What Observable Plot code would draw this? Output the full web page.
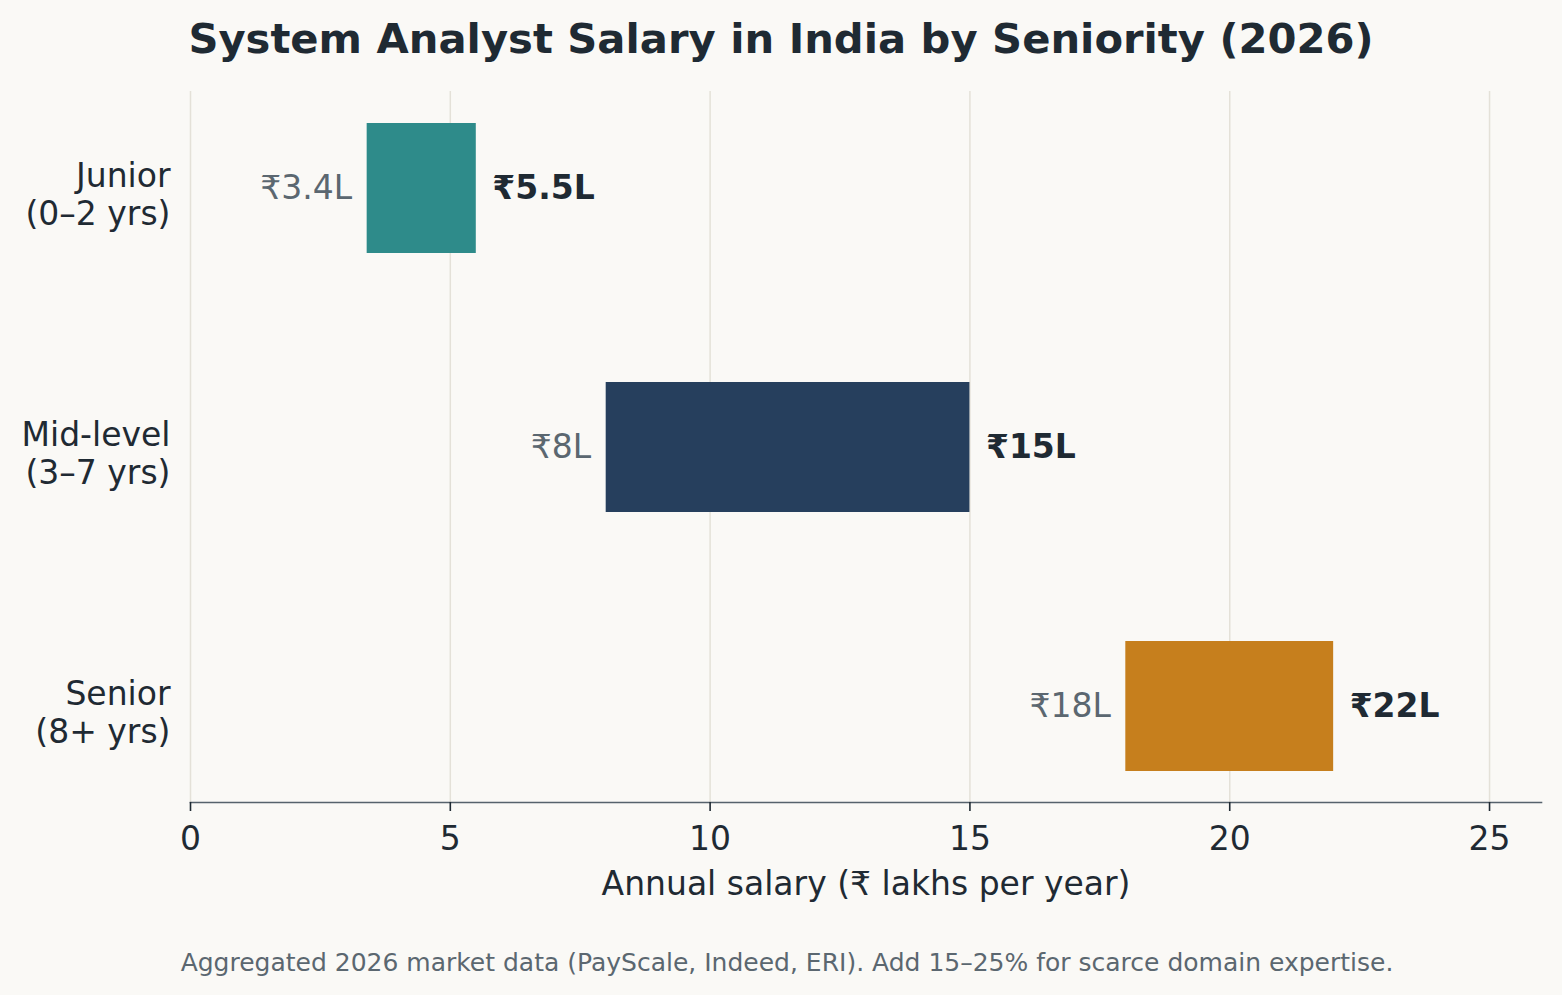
<!DOCTYPE html>
<html>
<head>
<meta charset="utf-8">
<script src="https://cdn.jsdelivr.net/npm/d3@7"></script>
<script src="https://cdn.jsdelivr.net/npm/@observablehq/plot@0.6"></script>
<style>
  html, body { margin: 0; padding: 0; background: #faf9f6; }
  body { width: 1562px; height: 995px; overflow: hidden; font-family: "DejaVu Sans", sans-serif; }
  #title {
    height: 80px; line-height: 77px; text-align: center;
    font-size: 41.7px; font-weight: bold; color: #1f2a33; white-space: nowrap;
  }
  #chart { height: 870px; }
  #chart svg { display: block; }
  #caption {
    height: 45px; line-height: 1; text-align: center; padding-left: 12px;
    font-size: 25px; color: #5b6770; white-space: nowrap;
  }
</style>
</head>
<body>
<div id="title">System Analyst Salary in India by Seniority (2026)</div>
<div id="chart"></div>
<div id="caption">Aggregated 2026 market data (PayScale, Indeed, ERI). Add 15–25% for scarce domain expertise.</div>
<script>
// Salary ranges (₹ lakhs per year) by seniority level
const levels = ["Junior\n(0–2 yrs)", "Mid-level\n(3–7 yrs)", "Senior\n(8+ yrs)"];
const lows = [3.4, 8, 18];
const highs = [5.5, 15, 22];
const levelColors = ["#2e8b8a", "#263f5d", "#c67f1d"];
const xTicks = [0, 5, 10, 15, 20, 25];
const xLabel = "Annual salary (₹ lakhs per year)";

const rows = levels.map((level, i) => ({level, low: lows[i], high: highs[i]}));
const fmt = v => `₹${v}L`;

const ink = "#1f2a33";
const muted = "#5b6770";

const plot = Plot.plot({
  width: 1562,
  height: 870,
  marginTop: 11,
  marginBottom: 148,
  marginLeft: 190,
  marginRight: 21,
  style: {background: "transparent", fontFamily: "DejaVu Sans, sans-serif", fontSize: "33px", color: ink},
  x: {domain: [0, 26], axis: null},
  y: {domain: levels, paddingInner: 0.5, paddingOuter: 0.12, axis: null},
  color: {domain: levels, range: levelColors},
  marks: [
    Plot.gridX(xTicks, {stroke: "#e4e1d8", strokeOpacity: 1, strokeWidth: 1.5}),
    Plot.barX(rows, {x1: "low", x2: "high", y: "level", fill: "level"}),
    // range endpoints
    Plot.text(rows, {x: "low", y: "level", text: d => fmt(d.low), textAnchor: "end", dx: -15, fill: muted, fontSize: 33}),
    Plot.text(rows, {x: "high", y: "level", text: d => fmt(d.high), textAnchor: "start", dx: 16, fill: ink, fontSize: 33, fontWeight: "bold"}),
    // category labels
    Plot.text(rows, {y: "level", text: "level", frameAnchor: "left", textAnchor: "end", dx: -20, dy: 5, fill: ink, fontSize: 33, lineHeight: 1.17}),
    // bottom spine and ticks
    Plot.frame({anchor: "bottom", stroke: "#56626c", strokeWidth: 1.6}),
    Plot.axisX(xTicks, {tickSize: 9, tickPadding: 15, stroke: ink, strokeWidth: 1.6, fill: ink, fontSize: 33, label: null}),
    Plot.text([xLabel], {frameAnchor: "bottom", dy: 92, fill: ink, fontSize: 33})
  ]
});
document.getElementById("chart").appendChild(plot);
</script>
</body>
</html>
